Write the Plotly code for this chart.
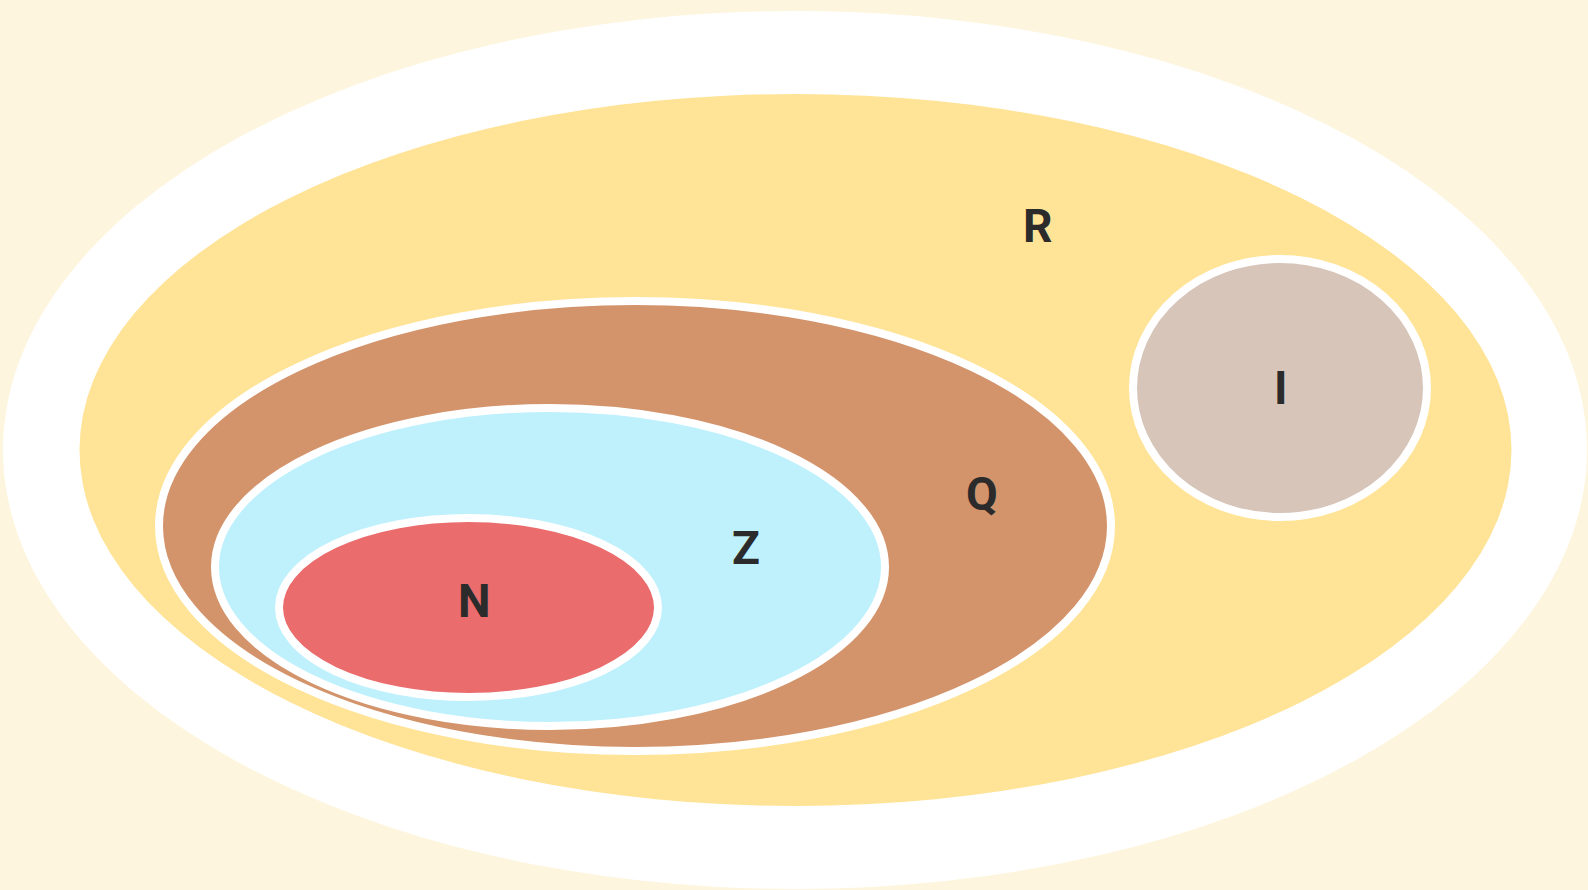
import plotly.graph_objects as go

# Euler diagram of number sets (drawn in pixel-like units: x right, y down)
sets = ["U", "R", "Q", "Z", "N", "I"]
labels = ["", "R", "Q", "Z", "N", "I"]
cx = [795, 795.5, 635, 550, 468.5, 1280]
cy = [450, 450, 526, 567, 607.5, 388]
rx = [792, 716, 472, 331, 185.5, 143]
ry = [439, 356, 221, 155, 85.5, 125]
label_x = [None, 1037, 982, 746, 474, 1280]
label_y = [None, 226, 494, 548, 601, 388]

fills = ["#FFFFFF", "#FFE396", "#D3936B", "#BFF1FD", "#EA6C6D", "#D7C5BA"]
border = [0, 0, 8, 8, 8, 8]
BG = "#FEF5DE"
W, H = 1588, 890

fig = go.Figure()
fig.add_trace(go.Scatter(x=[0, W], y=[0, H], mode="markers",
                         marker=dict(opacity=0), hoverinfo="skip", showlegend=False))

shapes = []
for i, s in enumerate(sets):
    pad = border[i] / 2
    shapes.append(dict(
        type="circle", xref="x", yref="y",
        x0=cx[i] - rx[i] - pad, x1=cx[i] + rx[i] + pad,
        y0=cy[i] - ry[i] - pad, y1=cy[i] + ry[i] + pad,
        fillcolor=fills[i],
        line=dict(color="#FFFFFF", width=border[i]),
        layer="below",
    ))

annotations = []
for i, s in enumerate(sets):
    if not labels[i]:
        continue
    annotations.append(dict(
        x=label_x[i], y=label_y[i], xref="x", yref="y",
        text="<b>%s</b>" % labels[i], showarrow=False,
        font=dict(family="Roboto", size=46, color="#2B2B2B"),
        xanchor="center", yanchor="middle",
    ))

fig.update_layout(
    width=W, height=H, autosize=False,
    margin=dict(l=0, r=0, t=0, b=0, pad=0),
    paper_bgcolor=BG, plot_bgcolor=BG,
    shapes=shapes, annotations=annotations,
    xaxis=dict(range=[0, W], visible=False, fixedrange=True),
    yaxis=dict(range=[H, 0], visible=False, fixedrange=True),
    showlegend=False,
)

fig.write_html(
    "out.html",
    config={"displayModeBar": False},
    post_script="document.body.style.margin='0';document.body.style.overflow='hidden';"
                "document.body.style.background='%s';" % BG,
)
